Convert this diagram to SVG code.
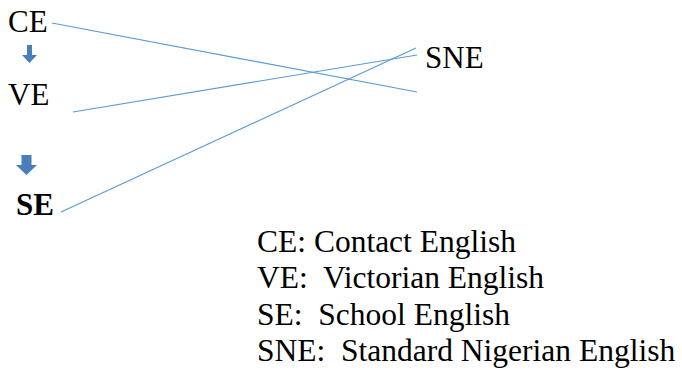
<svg xmlns="http://www.w3.org/2000/svg" width="682" height="370" viewBox="0 0 682 370">
<style>
text{font-family:"Liberation Serif","Times New Roman",serif;fill:#000}
.lbl{font-size:31px}
.leg{font-size:31.5px}
.con{stroke:#5b9bd5;stroke-width:1.2;fill:none}
.arr{fill:#4a7ebb}
</style>
<rect width="682" height="370" fill="#fff"/>
<g id="connectors">
<line class="con" x1="52" y1="23" x2="417" y2="92"/>
<line class="con" x1="73" y1="112" x2="417" y2="55"/>
<line class="con" x1="61" y1="212" x2="416" y2="48"/>
</g>
<g id="arrow1"><polygon class="arr" points="27,45 32,45 32,55 37,55 29.5,63 22,55 27,55"/></g>
<g id="arrow2"><polygon class="arr" points="21.5,155 31.5,155 31.5,165 37,165 26.5,175 16,165 21.5,165"/></g>
<g id="CE"><text class="lbl" x="8" y="32">CE</text></g>
<g id="VE"><text class="lbl" x="8" y="105">VE</text></g>
<g id="SE"><text class="lbl" x="16" y="215" font-weight="bold">SE</text></g>
<g id="SNE"><text class="lbl" x="425" y="68">SNE</text></g>
<g id="legend">
<text class="leg" x="257" y="252">CE: Contact English</text>
<text class="leg" x="257" y="288" xml:space="preserve">VE:  Victorian English</text>
<text class="leg" x="257" y="325" xml:space="preserve">SE:  School English</text>
<text class="leg" x="257" y="361" xml:space="preserve">SNE:  Standard Nigerian English</text>
</g>
</svg>
